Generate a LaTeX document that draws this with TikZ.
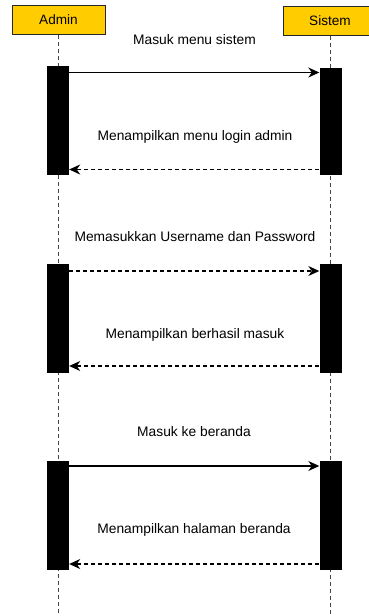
\documentclass[tikz,border=0pt]{standalone}
\usepackage{fontspec}
\setmainfont{Liberation Sans}
\usetikzlibrary{arrows.meta}
\definecolor{actorfill}{HTML}{FFCC00}
\definecolor{lifegray}{HTML}{444444}

\begin{document}
\begin{tikzpicture}[x=1pt,y=-1pt,
    actor/.style={draw=black!85,fill=actorfill,line width=1pt,minimum width=93pt,minimum height=29pt,inner sep=0pt},
    bar/.style={fill=black,minimum width=22pt,minimum height=109pt,inner sep=0pt,anchor=north},
    life/.style={draw=lifegray,line width=1pt,dash pattern=on 4pt off 3pt},
    msg/.style={line width=1.1pt,-{Stealth[length=11pt,width=10pt,inset=3.5pt]}},
    reply/.style={msg,dash pattern=on 4pt off 3pt},
    lbl/.style={font=\fontsize{13.8}{16}\selectfont,inner sep=0pt}]

    \useasboundingbox (0,0) rectangle (369,616);
    \clip (0,0) rectangle (369,616);

    \node[actor,font=\fontsize{13.6}{16}\selectfont] (admin) at (58.5,20) {Admin};
    \node[actor,font=\fontsize{13.6}{16}\selectfont] (sistem) at (330,20.5) {Sistem};
    \draw[life] (admin.south) -- (admin.south |- 0,616);
    \draw[life] (sistem.south) -- (sistem.south |- 0,616);

    \node[bar] (a1) at (58,66) {};
    \node[bar,minimum height=107pt] (s1) at (330.5,68) {};
    \node[lbl] (m1) at (194.5,40) {Masuk menu sistem};
    \draw[msg] (a1.east |- 0,72.5) -- (s1.west |- 0,72.5);
    \node[lbl] (r1) at (195,137) {Menampilkan menu login admin};
    \draw[reply] (s1.west |- 0,169.5) -- (a1.east |- 0,169.5);

    \node[bar] (a2) at (58,264) {};
    \node[bar] (s2) at (330.5,264) {};
    \node[lbl] (m2) at (195,237) {Memasukkan Username dan Password};
    \draw[reply] (a2.east |- 0,271) -- (s2.west |- 0,271);
    \node[lbl] (r2) at (195,335) {Menampilkan berhasil masuk};
    \draw[reply] (s2.west |- 0,366) -- (a2.east |- 0,366);

    \node[bar] (a3) at (58,461) {};
    \node[bar] (s3) at (330.5,461) {};
    \node[lbl] (m3) at (194,432) {Masuk ke beranda};
    \draw[msg] (a3.east |- 0,466) -- (s3.west |- 0,466);
    \node[lbl] (r3) at (194,530) {Menampilkan halaman beranda};
    \draw[reply] (s3.west |- 0,564) -- (a3.east |- 0,564);

\end{tikzpicture}
\end{document}
